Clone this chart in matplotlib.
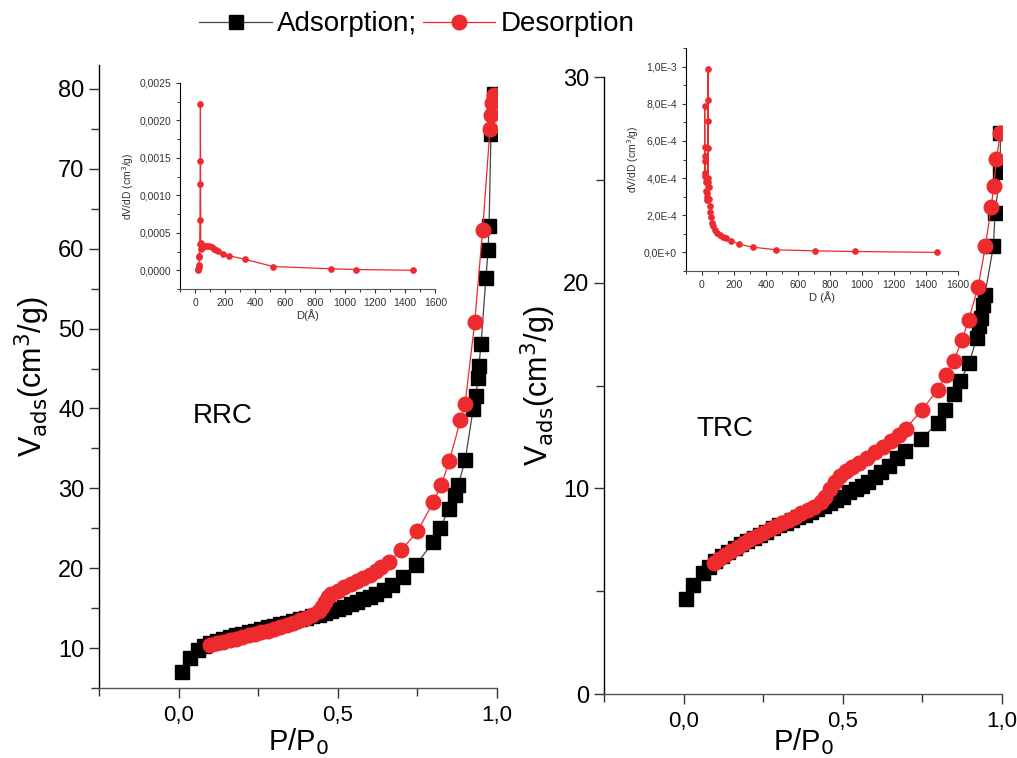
import matplotlib
matplotlib.use("Agg")
import matplotlib.pyplot as plt
from matplotlib.ticker import MultipleLocator, FuncFormatter
from matplotlib.lines import Line2D

plt.rcParams['font.family'] = ['Liberation Sans', 'DejaVu Sans']

RED = '#ED2A2E'

# ---- RRC isotherm ----
rrc_ads_p = [0.01, 0.035, 0.06, 0.08, 0.10, 0.12, 0.14, 0.16, 0.18, 0.20, 0.22, 0.24,
             0.26, 0.28, 0.30, 0.32, 0.34, 0.36, 0.38, 0.40, 0.42, 0.44, 0.46, 0.48,
             0.50, 0.52, 0.54, 0.56, 0.58, 0.60, 0.62, 0.645, 0.67, 0.705, 0.745,
             0.80, 0.82, 0.85, 0.868, 0.878, 0.90, 0.925, 0.934, 0.94, 0.943, 0.95,
             0.965, 0.972, 0.975, 0.981, 0.99]
rrc_ads_v = [7.0, 8.8, 9.7, 10.2, 10.6, 10.9, 11.2, 11.4, 11.6, 11.8, 12.0, 12.2,
             12.4, 12.6, 12.8, 13.0, 13.2, 13.4, 13.6, 13.8, 14.0, 14.2, 14.4, 14.7,
             14.9, 15.2, 15.5, 15.8, 16.1, 16.4, 16.8, 17.3, 17.9, 18.9, 20.4,
             23.3, 25.0, 27.4, 29.2, 30.4, 33.5, 39.9, 41.6, 43.8, 45.3, 48.1,
             56.3, 59.8, 62.8, 74.4, 79.4]
rrc_des_p = [0.99, 0.985, 0.982, 0.978, 0.955, 0.93, 0.90, 0.885, 0.85, 0.825, 0.80,
             0.75, 0.70, 0.66, 0.635, 0.62, 0.60, 0.58, 0.56, 0.54, 0.52, 0.50, 0.48,
             0.47, 0.46, 0.45, 0.44, 0.42, 0.40, 0.38, 0.36, 0.34, 0.32, 0.30, 0.28,
             0.26, 0.24, 0.22, 0.20, 0.18, 0.16, 0.14, 0.12, 0.10]
rrc_des_v = [79.3, 78.3, 76.7, 75.0, 62.4, 50.8, 40.6, 38.5, 33.4, 30.4, 28.3,
             24.6, 22.3, 20.8, 20.1, 19.7, 19.2, 18.8, 18.4, 18.0, 17.6, 17.2, 16.8,
             16.4, 15.8, 15.1, 14.6, 14.1, 13.8, 13.5, 13.2, 12.9, 12.7, 12.4, 12.2,
             12.0, 11.8, 11.6, 11.4, 11.2, 11.0, 10.8, 10.6, 10.4]

# ---- TRC isotherm ----
trc_ads_p = [0.008, 0.03, 0.06, 0.08, 0.10, 0.12, 0.14, 0.16, 0.18, 0.20, 0.22, 0.24,
             0.26, 0.28, 0.30, 0.32, 0.34, 0.36, 0.38, 0.40, 0.42, 0.44, 0.46, 0.48,
             0.50, 0.52, 0.54, 0.56, 0.58, 0.60, 0.62, 0.645, 0.67, 0.695, 0.745,
             0.80, 0.82, 0.85, 0.868, 0.897, 0.92, 0.929, 0.933, 0.94, 0.946,
             0.973, 0.978, 0.994, 0.995]
trc_ads_v = [4.6, 5.3, 5.9, 6.2, 6.45, 6.7, 6.9, 7.1, 7.3, 7.45, 7.6, 7.75,
             7.9, 8.05, 8.2, 8.3, 8.45, 8.6, 8.7, 8.85, 9.0, 9.15, 9.3, 9.45,
             9.6, 9.8, 9.95, 10.1, 10.3, 10.55, 10.8, 11.1, 11.5, 11.8, 12.4,
             13.2, 13.8, 14.6, 15.2, 16.1, 17.3, 17.9, 18.3, 18.9, 19.4,
             21.8, 23.4, 25.4, 27.3]
trc_des_p = [0.995, 0.982, 0.974, 0.966, 0.948, 0.925, 0.895, 0.874, 0.848, 0.825,
             0.798, 0.748, 0.697, 0.675, 0.65, 0.625, 0.60, 0.575, 0.55, 0.53, 0.51,
             0.49, 0.475, 0.46, 0.445, 0.43, 0.41, 0.39, 0.37, 0.35, 0.33, 0.31,
             0.29, 0.27, 0.25, 0.23, 0.21, 0.19, 0.17, 0.15, 0.13, 0.11, 0.097]
trc_des_v = [27.3, 26.0, 24.7, 23.7, 21.8, 19.8, 18.2, 17.2, 16.2, 15.5,
             14.8, 13.8, 12.9, 12.6, 12.3, 12.0, 11.75, 11.5, 11.25, 11.05, 10.85,
             10.6, 10.3, 9.95, 9.6, 9.35, 9.1, 8.95, 8.8, 8.6, 8.45, 8.3,
             8.15, 8.0, 7.85, 7.7, 7.55, 7.35, 7.15, 6.95, 6.75, 6.55, 6.35]

# ---- pore size distributions ----
rrc_psd_d = [20, 22, 24, 26, 28, 29, 31, 33, 34, 35, 36, 38, 42, 47, 55, 65, 80, 95,
             110, 125, 140, 155, 185, 225, 335, 520, 905, 1070, 1450]
rrc_psd_v = [0.00001, 0.00002, 0.00004, 0.00007, 0.00018, 0.00019, 0.00035, 0.00067,
             0.00115, 0.00146, 0.00222, 0.00037, 0.00028, 0.00030, 0.00032, 0.00033,
             0.00033, 0.00032, 0.00031, 0.00029, 0.00027, 0.00026, 0.000215, 0.000195,
             0.000145, 0.00005, 0.00002, 0.00001, 0.0]

trc_psd_d = [16, 17, 18, 19, 20, 21, 23, 25, 27, 29, 31, 33, 35, 36, 37, 38, 39, 40,
             42, 45, 48, 52, 57, 63, 70, 80, 95, 110, 130, 150, 180, 230, 320, 465,
             705, 955, 1470]
trc_psd_v = [0.00041, 0.00079, 0.00057, 0.00052, 0.00049, 0.00043, 0.00040, 0.00038,
             0.00033, 0.00030, 0.00028, 0.00032, 0.00038, 0.00082, 0.00099, 0.00071,
             0.00056, 0.00040, 0.00035, 0.00029, 0.00025, 0.00022, 0.00019, 0.00016,
             0.00014, 0.00012, 0.000105, 0.000095, 0.000085, 0.000075, 0.000062,
             0.000045, 0.000028, 0.000014, 0.0000085, 0.000005, 0.0]


def comma(fmt):
    return FuncFormatter(lambda v, pos: (fmt % v).replace('.', ','))


def sci_comma(v, pos):
    if abs(v) < 1e-12:
        return '0,0E+0'
    s = '%.1E' % v
    mant, exp = s.split('E')
    return mant.replace('.', ',') + 'E' + str(int(exp))


def style_axes(ax, lw=1.0):
    ax.spines['top'].set_visible(False)
    ax.spines['right'].set_visible(False)
    ax.spines['left'].set_color('black')
    ax.spines['bottom'].set_color('#555555')
    ax.spines['left'].set_linewidth(lw)
    ax.spines['bottom'].set_linewidth(lw)
    ax.tick_params(which='both', direction='out', colors='#333333', labelcolor='black')


fig = plt.figure(figsize=(10.17, 7.58), dpi=100)
ax1 = fig.add_axes([0.0973, 0.0923, 0.3914, 0.822])
ax2 = fig.add_axes([0.5939, 0.0844, 0.3914, 0.814])

for ax, ap, av, dp, dv, name, ylim, tpos, lpad in [
        (ax1, rrc_ads_p, rrc_ads_v, rrc_des_p, rrc_des_v, 'RRC', (5, 83), (0.045, 39), 0),
        (ax2, trc_ads_p, trc_ads_v, trc_des_p, trc_des_v, 'TRC', (0, 30), (0.04, 12.9), -4)]:
    ax.plot(ap, av, color='#444444', lw=0.9, marker='s', ms=9.5,
            mfc='black', mec='black', zorder=2)
    ax.plot(dp, dv, color=RED, lw=0.9, marker='o', ms=10.5,
            mfc=RED, mec=RED, zorder=3)
    style_axes(ax)
    ax.set_xlim(-0.25, 1.0)
    ax.set_ylim(*ylim)
    ax.xaxis.set_major_locator(MultipleLocator(0.5))
    ax.xaxis.set_minor_locator(MultipleLocator(0.25))
    ax.yaxis.set_major_locator(MultipleLocator(10))
    ax.yaxis.set_minor_locator(MultipleLocator(5))
    ax.xaxis.set_major_formatter(comma('%.1f'))
    ax.tick_params(which='major', length=7, width=1, labelsize=17)
    ax.tick_params(which='minor', length=6, width=1)
    ax.tick_params(axis='x', which='major', labelsize=16, pad=5)
    ax.set_xlabel('P/P$_0$', fontsize=21, labelpad=lpad)
    ax.set_ylabel('V$_{\\mathrm{ads}}$(cm$^3$/g)', fontsize=22, labelpad=4)
    ax.text(tpos[0], tpos[1], name, fontsize=20, ha='left', va='center')

# insets
in1 = fig.add_axes([0.177, 0.6187, 0.251, 0.272])
in2 = fig.add_axes([0.6745, 0.6425, 0.2675, 0.294])
for ax, d, v, xl, ylim, ymaj, ymin in [
        (in1, rrc_psd_d, rrc_psd_v, 'D(Å)', (-0.00025, 0.0025), 0.0005, 0.00025),
        (in2, trc_psd_d, trc_psd_v, 'D (Å)', (-0.0001, 0.0011), 0.0002, 0.0001)]:
    ax.plot(d, v, color=RED, lw=0.9, marker='o', ms=3.8, mfc=RED, mec=RED)
    style_axes(ax, lw=0.8)
    ax.set_xlim(-100, 1600)
    ax.set_ylim(*ylim)
    ax.xaxis.set_major_locator(MultipleLocator(200))
    ax.xaxis.set_minor_locator(MultipleLocator(100))
    ax.yaxis.set_major_locator(MultipleLocator(ymaj))
    ax.yaxis.set_minor_locator(MultipleLocator(ymin))
    ax.tick_params(which='major', length=3, width=0.8, labelsize=7.5, labelcolor='#333333')
    ax.tick_params(which='minor', length=2, width=0.7)
    ax.set_xlabel(xl, fontsize=8, labelpad=1, color='#333333')
    ax.set_ylabel('dV/dD (cm$^3$/g)', fontsize=7.5, labelpad=2, color='#333333')

in1.yaxis.set_major_formatter(comma('%.4f'))
in2.yaxis.set_major_formatter(FuncFormatter(sci_comma))

handles = [Line2D([], [], color='#444444', lw=0.9, marker='s', ms=9.5, mfc='black', mec='black'),
           Line2D([], [], color=RED, lw=0.9, marker='o', ms=10.5, mfc=RED, mec=RED)]
fig.legend(handles, ['Adsorption;', 'Desorption'], loc='upper center',
           bbox_to_anchor=(0.41, 1.018), ncol=2, frameon=False,
           prop={'size': 20}, handlelength=2.6,
           handletextpad=0.2, columnspacing=0.2)

fig.savefig('out.png', dpi=100)
